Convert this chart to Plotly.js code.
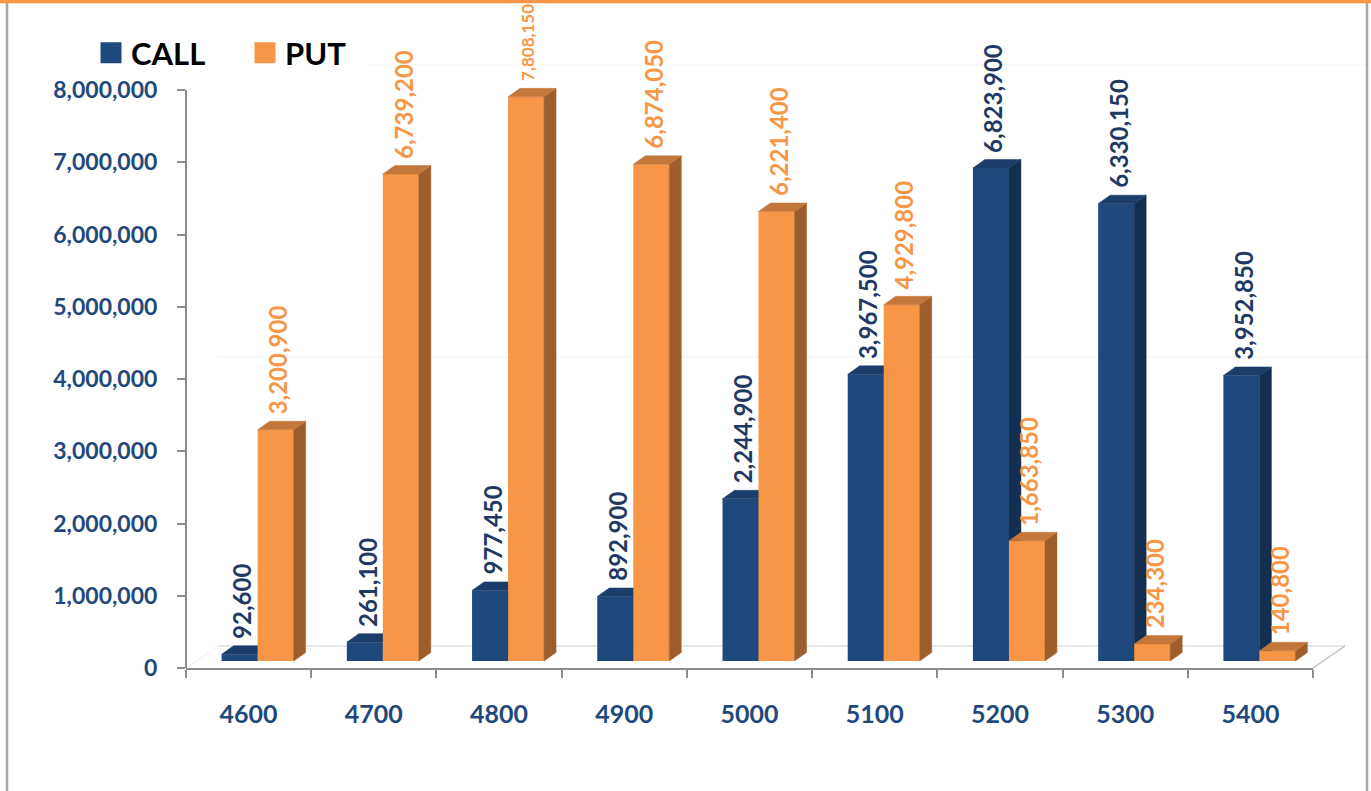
<!DOCTYPE html>
<html>
<head>
<meta charset="utf-8">
<script src="https://cdn.plot.ly/plotly-3.0.1.min.js"></script>
<style>
  html, body { margin: 0; padding: 0; background: #ffffff; }
  #chart { width: 1371px; height: 791px; }
</style>
</head>
<body>
<div id="chart"></div>
<script>
// ---------------- DATA ----------------
const categories = ['4600', '4700', '4800', '4900', '5000', '5100', '5200', '5300', '5400'];
const callValues = [92600, 261100, 977450, 892900, 2244900, 3967500, 6823900, 6330150, 3952850];
const putValues  = [3200900, 6739200, 7808150, 6874050, 6221400, 4929800, 1663850, 234300, 140800];
const yTickVals  = [0, 1000000, 2000000, 3000000, 4000000, 5000000, 6000000, 7000000, 8000000];
const seriesNames = ['CALL', 'PUT'];

// ---------------- GEOMETRY (pixels) ----------------
const W = 1371, H = 791;
const L = 186, R = 1313, T = 8, B = 668;
const pxPerUnitX = (R - L) / categories.length;
const pxPerUnitY = (B - 90) / 8000000;
const yTop = (B - T) / pxPerUnitY;

const shiftX = 9 / pxPerUnitX;
const shiftY = 7 / pxPerUnitY;
const barW = 36 / pxPerUnitX;
const DX = 12 / pxPerUnitX;
const DY = 8.5 / pxPerUnitY;
const LABEL_GAP = 6 / pxPerUnitY;
const LABEL_SIZE = 24;

const fmt = v => v.toLocaleString('en-US');
const px = x => (x - L) / (R - L);
const py = y => (B - y) / (B - T);

const colors = {
  callFront: '#1F497D', callTop: '#1B3D69', callSide: '#152F52', callText: '#1F3864',
  putFront: '#F79646', putTop: '#C3773B', putSide: '#9D5E2B', putText: '#F79646'
};
const FONT = 'Lato, "Open Sans", sans-serif';

// shrink a label only if it would not fit between its bar and the top border
function labelSize(v) {
  const s = fmt(v);
  const digits = s.replace(/,/g, '').length, commas = s.length - digits;
  const em = digits * 0.55 + commas * 0.22;
  const bottomPix = (B - 7) - (v + DY + LABEL_GAP) * pxPerUnitY;
  const avail = bottomPix - 9;
  return Math.min(LABEL_SIZE, Math.floor(avail / em));
}

function buildTraces(vals, off, xa, ya, front, top, side) {
  const idx = vals.map((v, i) => i);
  const sx = [], sy = [], tx = [], ty = [];
  vals.forEach((v, i) => {
    const xl = i + off, xr = xl + barW;
    sx.push(xr, xr + DX, xr + DX, xr, xr, null);
    sy.push(0, DY, v + DY, v, 0, null);
    tx.push(xl, xl + DX, xr + DX, xr, xl, null);
    ty.push(v, v + DY, v + DY, v, v, null);
  });
  return [
    { type: 'bar', x: idx, y: vals, width: barW, offset: off, xaxis: xa, yaxis: ya,
      marker: { color: front, line: { width: 0 } }, showlegend: false, hoverinfo: 'y' },
    { type: 'scatter', mode: 'lines', x: sx, y: sy, xaxis: xa, yaxis: ya, fill: 'toself',
      fillcolor: side, line: { color: side, width: 0.5 }, showlegend: false, hoverinfo: 'skip' },
    { type: 'scatter', mode: 'lines', x: tx, y: ty, xaxis: xa, yaxis: ya, fill: 'toself',
      fillcolor: top, line: { color: top, width: 0.5 }, showlegend: false, hoverinfo: 'skip' }
  ];
}

function buildLabels(vals, off, xa, ya, color) {
  return vals.map((v, i) => ({
    xref: xa, yref: ya, x: i + off + barW / 2 + DX / 6, y: v + DY + LABEL_GAP,
    text: fmt(v), textangle: -90, showarrow: false, xanchor: 'center', yanchor: 'bottom',
    borderpad: 0,
    font: { family: FONT, size: labelSize(v), color: color, weight: 700 }
  }));
}

const traces = [
  { type: 'scatter', mode: 'markers', x: [null], y: [null], name: seriesNames[0],
    marker: { symbol: 'square', size: 16, color: colors.callFront, line: { color: colors.callFront, width: 5 } } },
  { type: 'scatter', mode: 'markers', x: [null], y: [null], name: seriesNames[1],
    marker: { symbol: 'square', size: 16, color: colors.putFront, line: { color: colors.putFront, width: 5 } } },
  ...buildTraces(callValues, -barW, 'x2', 'y2', colors.callFront, colors.callTop, colors.callSide),
  ...buildTraces(putValues, 0, 'x3', 'y3', colors.putFront, colors.putTop, colors.putSide)
];

const annotations = [
  ...buildLabels(callValues, -barW, 'x2', 'y2', colors.callText),
  ...buildLabels(putValues, 0, 'x3', 'y3', colors.putText)
];

const xr = [-0.5 - shiftX, categories.length - 0.5 - shiftX];
const yr = [-shiftY, yTop - shiftY];
const gray = '#8C8C8C';
const backDX = 32, backDY = 22;

const shapes = [
  { type: 'line', xref: 'paper', yref: 'paper', x0: px(7), x1: px(7), y0: py(2), y1: py(H + 5), line: { color: '#A6A6A6', width: 2.5 } },
  { type: 'line', xref: 'paper', yref: 'paper', x0: px(1367), x1: px(1367), y0: py(2), y1: py(H + 5), line: { color: '#A6A6A6', width: 2.5 } },
  { type: 'line', xref: 'paper', yref: 'paper', x0: px(-5), x1: px(W + 5), y0: py(1.5), y1: py(1.5), line: { color: '#F79646', width: 3.5 } },
  { type: 'line', xref: 'paper', yref: 'y', x0: 0, x1: 0, y0: 0, y1: yTickVals[yTickVals.length - 1], line: { color: gray, width: 2 } },
  { type: 'line', xref: 'paper', yref: 'paper', layer: 'below', x0: px(L + backDX), x1: px(R + backDX), y0: py(B - backDY), y1: py(B - backDY), line: { color: '#D0D0D0', width: 1.2 } },
  { type: 'line', xref: 'paper', yref: 'paper', layer: 'below', x0: px(R), x1: px(R + backDX), y0: py(B), y1: py(B - backDY), line: { color: '#BFBFBF', width: 1.5 } },
  { type: 'line', xref: 'paper', yref: 'paper', layer: 'below', x0: px(L), x1: px(L + backDX), y0: py(B), y1: py(B - backDY), line: { color: '#EEEEEE', width: 1 } },
  { type: 'line', xref: 'paper', yref: 'paper', layer: 'below', x0: px(L + backDX), x1: px(R + backDX + 30), y0: py(B - 4000000 * pxPerUnitY - backDY), y1: py(B - 4000000 * pxPerUnitY - backDY), line: { color: '#F2F2F2', width: 1 } },
  { type: 'line', xref: 'paper', yref: 'paper', layer: 'below', x0: px(L + backDX + 150), x1: px(R + backDX + 30), y0: py(B - 8000000 * pxPerUnitY - backDY - 3), y1: py(B - 8000000 * pxPerUnitY - backDY - 3), line: { color: '#F4F4F4', width: 1 } }
];

const layout = {
  width: W, height: H,
  margin: { l: L, r: W - R, t: T, b: H - B, pad: 0 },
  paper_bgcolor: '#ffffff', plot_bgcolor: 'rgba(0,0,0,0)',
  barmode: 'overlay',
  showlegend: true,
  legend: {
    orientation: 'h', x: px(91), y: py(53), xanchor: 'left', yanchor: 'middle',
    bgcolor: 'rgba(0,0,0,0)', entrywidth: 109, entrywidthmode: 'pixels',
    font: { family: FONT, size: 31, color: '#000000', weight: 700 }
  },
  xaxis: {
    type: 'category', categoryorder: 'array', categoryarray: categories,
    range: [-0.5, categories.length - 0.5], fixedrange: true,
    showline: true, linecolor: gray, linewidth: 2,
    ticks: 'outside', tickson: 'boundaries', ticklen: 8, tickwidth: 2, tickcolor: gray,
    showgrid: false, zeroline: false, ticklabelstandoff: 23,
    tickfont: { family: FONT, size: 25, color: '#1F497D', weight: 700 }
  },
  yaxis: {
    range: [0, yTop], fixedrange: true,
    tickvals: yTickVals, ticktext: yTickVals.map(fmt),
    ticks: 'outside', ticklen: 8, tickwidth: 2, tickcolor: gray,
    showline: false, showgrid: false, zeroline: false, ticklabelstandoff: 15,
    tickfont: { family: FONT, size: 23, color: '#1F497D', weight: 700 }
  },
  xaxis2: { overlaying: 'x', anchor: 'y2', range: xr, visible: false, fixedrange: true },
  yaxis2: { overlaying: 'y', anchor: 'x2', range: yr, visible: false, fixedrange: true },
  xaxis3: { overlaying: 'x', anchor: 'y3', range: xr, visible: false, fixedrange: true },
  yaxis3: { overlaying: 'y', anchor: 'x3', range: yr, visible: false, fixedrange: true },
  shapes: shapes,
  annotations: annotations
};

Plotly.newPlot('chart', traces, layout, { displayModeBar: false, staticPlot: true });
</script>
</body>
</html>
